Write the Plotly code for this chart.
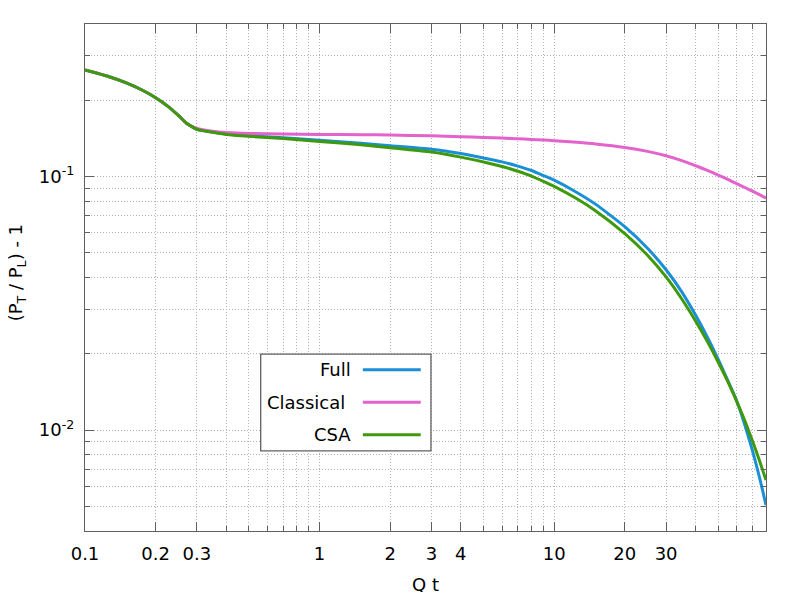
import plotly.graph_objects as go

# Q t values (x axis)
qt = [0.1, 0.125, 0.15, 0.175, 0.2, 0.225, 0.25, 0.27, 0.28, 0.3, 0.35, 0.4, 0.5, 0.7,
      1, 1.5, 2, 3, 4, 5, 6, 7, 8, 9, 10, 12.5, 15, 20, 25, 30, 35, 40, 45, 50,
      55, 60, 65, 70, 75, 80]

# (P_T / P_L) - 1 for each model
full = [0.2636, 0.2489, 0.2343, 0.2196, 0.2048, 0.1897, 0.1743, 0.1627, 0.1592, 0.1537,
        0.1498, 0.1472, 0.1449, 0.1423, 0.1390, 0.1353, 0.1324, 0.1282, 0.1233, 0.1185,
        0.1143, 0.1100, 0.1057, 0.1010, 0.0968, 0.0866, 0.0779, 0.0635, 0.0522, 0.0429,
        0.0351, 0.0285, 0.02328, 0.01905, 0.01567, 0.01305, 0.01047, 0.00832, 0.00653,
        0.00506]
classical = [0.2636, 0.2489, 0.2343, 0.2196, 0.2048, 0.1897, 0.1743, 0.1627, 0.1592, 0.1548,
             0.151, 0.1493, 0.148, 0.1473, 0.1467, 0.1463, 0.146, 0.1448, 0.1438, 0.1428,
             0.1419, 0.1410, 0.1402, 0.1394, 0.1386, 0.1366, 0.1346, 0.1304, 0.1258, 0.1209,
             0.1156, 0.1105, 0.1058, 0.1014, 0.0975, 0.0938, 0.0906, 0.0876, 0.0849, 0.0823]
csa = [0.2636, 0.2489, 0.2343, 0.2196, 0.2048, 0.1897, 0.1743, 0.1627, 0.1592, 0.1535,
       0.1495, 0.1467, 0.1442, 0.1413, 0.1377, 0.1335, 0.1300, 0.125, 0.1194, 0.1142,
       0.1097, 0.1050, 0.1005, 0.0958, 0.0915, 0.0818, 0.0734, 0.0596, 0.0490, 0.0402,
       0.0329, 0.0270, 0.02234, 0.01857, 0.01553, 0.01299, 0.01089, 0.00908, 0.00759,
       0.00635]

names = ["Full", "Classical", "CSA"]
colors = ["#1a8fd6", "#e462cc", "#3e990c"]
series = [full, classical, csa]

xtick_vals = [0.1, 0.2, 0.3, 1, 2, 3, 4, 10, 20, 30]
xtick_text = ["0.1", "0.2", "0.3", "1", "2", "3", "4", "10", "20", "30"]
xminor = [0.4, 0.5, 0.6, 0.7, 0.8, 0.9, 5, 6, 7, 8, 9, 40, 50, 60, 70, 80]
ytick_vals = [0.01, 0.1]
ytick_text = ["10<sup>-2</sup>", "10<sup>-1</sup>"]
yminor = [0.004, 0.005, 0.006, 0.007, 0.008, 0.009, 0.02, 0.03, 0.04, 0.05, 0.06, 0.07,
          0.08, 0.09, 0.2, 0.3, 0.4]

font = dict(family="DejaVu Sans", size=18, color="#000000")
grid_col = "#b4b4b4"
axis_col = "#606060"

fig = go.Figure()
for name, ys, col in zip(names, series, colors):
    fig.add_trace(go.Scatter(x=qt, y=ys, name=name, mode="lines",
                             line=dict(color=col, width=3, shape="spline", smoothing=0.5)))

# the page body has an 8px margin, so the figure is 784x584 and sits at (8, 8)
fig.update_layout(
    width=784, height=584,
    margin=dict(l=77, r=26, t=16, b=61),
    paper_bgcolor="white", plot_bgcolor="white",
    font=font,
    showlegend=False,
)
fig.update_xaxes(
    type="log", range=[-1, 1.90309],
    tickmode="array", tickvals=xtick_vals, ticktext=xtick_text,
    ticks="inside", ticklen=9, tickcolor=axis_col, tickwidth=1,
    showline=True, linecolor=axis_col, linewidth=1.2, mirror="ticks",
    showgrid=True, gridcolor=grid_col, griddash="1px,2px", gridwidth=1,
    ticklabelstandoff=6,
    minor=dict(tickmode="array", tickvals=xminor, ticks="inside", ticklen=5,
               tickcolor=axis_col, showgrid=True, gridcolor=grid_col,
               griddash="1px,2px", gridwidth=1),
    zeroline=False,
)
fig.update_yaxes(
    type="log", range=[-2.39794, -0.39794],
    tickmode="array", tickvals=ytick_vals, ticktext=ytick_text,
    ticks="inside", ticklen=9, tickcolor=axis_col, tickwidth=1,
    showline=True, linecolor=axis_col, linewidth=1.2, mirror="ticks",
    showgrid=True, gridcolor=grid_col, griddash="1px,2px", gridwidth=1,
    ticklabelstandoff=6,
    minor=dict(tickmode="array", tickvals=yminor, ticks="inside", ticklen=5,
               tickcolor=axis_col, showgrid=True, gridcolor=grid_col,
               griddash="1px,2px", gridwidth=1),
    zeroline=False,
)

# axis titles
fig.add_annotation(text="Q t", xref="paper", yref="paper", x=0.5, y=-0.106,
                   showarrow=False, xanchor="center", yanchor="middle", font=font)
fig.add_annotation(text="(P<sub>T</sub> / P<sub>L</sub>) - 1", xref="paper", yref="paper",
                   x=-0.0985, y=0.51, textangle=-90, showarrow=False,
                   xanchor="center", yanchor="middle", font=font)

# gnuplot-style key: label right-aligned, line sample to its right
fig.add_shape(type="rect", xref="paper", yref="paper", x0=0.258, x1=0.508, y0=0.158,
              y1=0.349, line=dict(color=axis_col, width=1.3), fillcolor="white", layer="above")
rows = [0.318, 0.254, 0.19]
label_x = [0.3931, 0.3843, 0.3931]
for name, col, ry, lx in zip(names, colors, rows, label_x):
    fig.add_annotation(text=name, xref="paper", yref="paper", x=lx, y=ry,
                       xanchor="right", yanchor="middle", showarrow=False, font=font)
    fig.add_shape(type="line", xref="paper", yref="paper", x0=0.408, x1=0.493, y0=ry, y1=ry,
                  line=dict(color=col, width=3), layer="above")

fig.write_html("out.html")
